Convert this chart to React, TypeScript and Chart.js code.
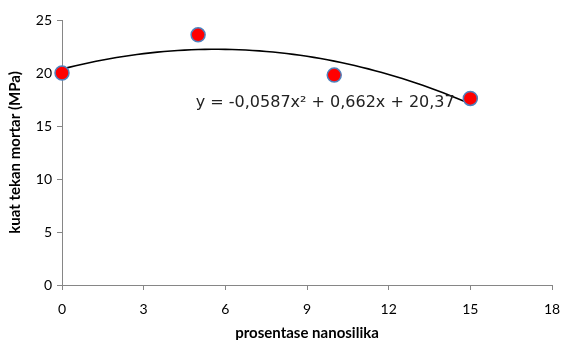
import React, { useEffect, useRef } from "react";
import { Chart, registerables } from "chart.js";

Chart.register(...registerables);

const xValues = [0, 5, 10, 15];
const yValues = [20, 23.6, 19.8, 17.6];
const xTicks = [0, 3, 6, 9, 12, 15, 18];
const yTicks = [0, 5, 10, 15, 20, 25];
const trendCoeffs = [-0.0587, 0.662, 20.37]; // a, b, c of displayed trendline
const trendRange = [0, 15];
const trendLabel = "y = -0,0587x\u00b2 + 0,662x + 20,37";
const trendLabelAt = [9.67, 17.2];
const xTitle = "prosentase nanosilika";
const yTitle = "kuat tekan mortar (MPa)";

export default function App() {
  const ref = useRef<HTMLCanvasElement | null>(null);

  useEffect(() => {
    document.body.style.margin = "0";
    const canvas = ref.current;
    if (!canvas) return;

    const trend: { x: number; y: number }[] = [];
    const steps = 60;
    for (let i = 0; i <= steps; i++) {
      const x = trendRange[0] + ((trendRange[1] - trendRange[0]) * i) / steps;
      trend.push({ x, y: trendCoeffs[0] * x * x + trendCoeffs[1] * x + trendCoeffs[2] });
    }

    const labelPlugin = {
      id: "trendLabel",
      afterDatasetsDraw(chart: any) {
        const { ctx, scales } = chart;
        const px = scales.x.getPixelForValue(trendLabelAt[0]);
        const py = scales.y.getPixelForValue(trendLabelAt[1]);
        ctx.save();
        ctx.font = "16px 'DejaVu Sans'";
        ctx.fillStyle = "#222";
        ctx.textAlign = "center";
        ctx.textBaseline = "middle";
        ctx.fillText(trendLabel, px, py);
        ctx.restore();
      },
    };

    const chart = new Chart(canvas, {
      type: "scatter",
      data: {
        datasets: [
          {
            type: "line",
            data: trend,
            borderColor: "#000",
            borderWidth: 1.6,
            pointRadius: 0,
            fill: false,
            tension: 0,
            order: 2,
            clip: false,
          } as any,
          {
            data: xValues.map((x, i) => ({ x, y: yValues[i] })),
            backgroundColor: "#ff0000",
            borderColor: "#4f81bd",
            borderWidth: 1.5,
            pointRadius: 7,
            pointHoverRadius: 7,
            order: 1,
            clip: false,
          } as any,
        ],
      },
      options: {
        animation: false,
        responsive: false,
        events: [],
        layout: { padding: { top: 20, right: 16, left: 0, bottom: 0 } },
        plugins: { legend: { display: false }, tooltip: { enabled: false } },
        scales: {
          x: {
            type: "linear",
            min: 0,
            max: 18,
            afterBuildTicks: (s: any) => {
              s.ticks = xTicks.map((v) => ({ value: v }));
            },
            afterFit: (s: any) => {
              s.height = 55;
              s.paddingLeft = 0;
              s.paddingRight = 0;
            },
            ticks: { color: "#000", font: { family: "Lato", size: 14 }, padding: 11 },
            grid: { drawOnChartArea: false, drawTicks: true, tickLength: 5, color: "#868686" },
            border: { color: "#868686", width: 1 },
            title: {
              display: true,
              text: xTitle,
              color: "#000",
              font: { family: "Lato", size: 15, weight: "bold" },
              padding: { top: 0, bottom: -2 },
            },
          },
          y: {
            type: "linear",
            min: 0,
            max: 25,
            afterBuildTicks: (s: any) => {
              s.ticks = yTicks.map((v) => ({ value: v }));
            },
            afterFit: (s: any) => {
              s.width = 62;
              s.paddingTop = 0;
              s.paddingBottom = 0;
            },
            ticks: { color: "#000", font: { family: "Lato", size: 14 }, padding: 5 },
            grid: { drawOnChartArea: false, drawTicks: true, tickLength: 5, color: "#868686" },
            border: { color: "#868686", width: 1 },
            title: {
              display: true,
              text: yTitle,
              color: "#000",
              font: { family: "Lato", size: 15, weight: "bold" },
              padding: { top: 6, bottom: 0 },
            },
          },
        },
      },
      plugins: [labelPlugin],
    });
    return () => chart.destroy();
  }, []);

  return (
    <div style={{ width: 568, height: 340 }}>
      <canvas ref={ref} width={568} height={340} style={{ display: "block" }} />
    </div>
  );
}
